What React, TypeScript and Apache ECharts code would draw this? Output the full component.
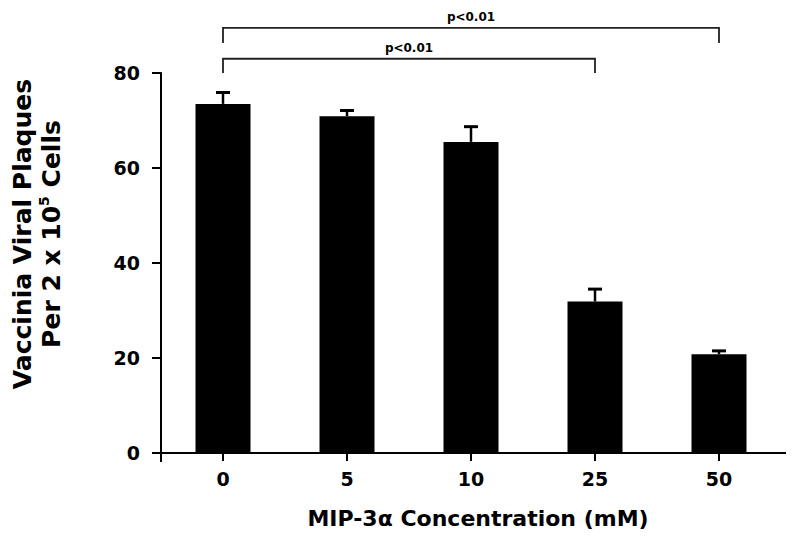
import React, { useEffect, useRef } from "react";
import * as echarts from "echarts";

const categories = ["0", "5", "10", "25", "50"];
const means = [73.5, 70.9, 65.5, 31.9, 20.8];
const errors = [2.4, 1.2, 3.2, 2.6, 0.7];
const yMin = 0;
const yMax = 80;
const yInterval = 20;
// significance brackets: from category index, to category index, bracket height, drop, label
const bracketFrom = [0, 0];
const bracketTo = [3, 4];
const bracketHeight = [83, 89.5];
const bracketDrop = [3, 3.2];
const bracketLabels = ["p<0.01", "p<0.01"];

const FONT = "'DejaVu Sans', Verdana, sans-serif";
const GRID = { left: 161, right: 19, top: 73, bottom: 89 };

export default function App() {
  const ref = useRef<HTMLDivElement>(null);
  useEffect(() => {
    document.body.style.margin = "0";
    if (!ref.current) return;
    const chart = echarts.init(ref.current, undefined, { renderer: "svg" });
    const errData = means.map((m, i) => [i, m, m + errors[i]]);
    const brData = bracketFrom.map((f, i) => [f, bracketTo[i], bracketHeight[i], bracketDrop[i]]);
    const originY = 542 - GRID.bottom;
    const axisEndX = 800 - GRID.right;
    chart.setOption({
      animation: false,
      backgroundColor: "#fff",
      grid: { ...GRID, containLabel: false },
      xAxis: {
        type: "category",
        data: categories,
        axisLine: { show: true, lineStyle: { color: "#000", width: 2 } },
        axisTick: { show: true, alignWithLabel: true, length: 8, lineStyle: { color: "#000", width: 2 } },
        axisLabel: { color: "#000", fontSize: 19, fontWeight: "bold", fontFamily: FONT, margin: 16 },
        name: "MIP-3\u03b1 Concentration (mM)",
        nameLocation: "middle",
        nameGap: 54,
        nameTextStyle: { color: "#000", fontSize: 22, fontWeight: "bold", fontFamily: FONT, padding: [0, 0, 0, 14] },
      },
      yAxis: {
        type: "value",
        min: yMin,
        max: yMax,
        interval: yInterval,
        splitLine: { show: false },
        axisLine: { show: true, lineStyle: { color: "#000", width: 2 } },
        axisTick: { show: true, length: 9, lineStyle: { color: "#000", width: 2 } },
        axisLabel: { color: "#000", fontSize: 19, fontWeight: "bold", fontFamily: FONT, margin: 21 },
      },
      series: [
        {
          type: "bar",
          data: means,
          barWidth: 55,
          itemStyle: { color: "#000" },
          z: 2,
        },
        {
          type: "custom",
          data: errData,
          encode: { x: 0, y: [1, 2] },
          z: 3,
          renderItem: (params: any, api: any) => {
            const base = api.coord([api.value(0), api.value(1)]);
            const top = api.coord([api.value(0), api.value(2)]);
            return {
              type: "group",
              children: [
                { type: "line", shape: { x1: base[0], y1: base[1], x2: base[0], y2: top[1] }, style: { stroke: "#000", lineWidth: 2.5 } },
                { type: "line", shape: { x1: base[0] - 7, y1: top[1], x2: base[0] + 7, y2: top[1] }, style: { stroke: "#000", lineWidth: 3 } },
              ],
            };
          },
        },
        {
          type: "custom",
          data: brData,
          clip: false,
          z: 4,
          renderItem: (params: any, api: any) => {
            const i = params.dataIndex;
            const l = api.coord([api.value(0), api.value(2)]);
            const r = api.coord([api.value(1), api.value(2)]);
            const b = api.coord([api.value(0), api.value(2) - api.value(3)]);
            return {
              type: "group",
              children: [
                {
                  type: "polyline",
                  shape: { points: [[l[0], b[1]], [l[0], l[1]], [r[0], l[1]], [r[0], b[1]]] },
                  style: { stroke: "#222", lineWidth: 1.8, fill: null },
                },
                {
                  type: "text",
                  x: (l[0] + r[0]) / 2,
                  y: l[1] - 11,
                  style: {
                    text: bracketLabels[i],
                    fill: "#000",
                    font: `bold 12px ${FONT}`,
                    align: "center",
                    verticalAlign: "middle",
                  },
                },
              ],
            };
          },
        },
      ],
      graphic: [
        {
          type: "text",
          id: "ytitle",
          x: 37,
          y: 234,
          rotation: Math.PI / 2,
          style: {
            text: "{t|Vaccinia Viral Plaques}\n{t|Per 2 x 10}{s|5}{t| Cells}",
            align: "center",
            verticalAlign: "middle",
            rich: {
              t: { fontSize: 25, fontWeight: "bold", fontFamily: FONT, fill: "#000", lineHeight: 29 },
              s: { fontSize: 14, fontWeight: "bold", fontFamily: FONT, fill: "#000", lineHeight: 29, verticalAlign: "top", padding: [0, 0, 10, 0] },
            },
          },
        },
        {
          type: "line",
          id: "yext",
          shape: { x1: GRID.left, y1: originY, x2: GRID.left, y2: originY + 9 },
          style: { stroke: "#000", lineWidth: 2 },
        },
        {
          type: "line",
          id: "xext",
          shape: { x1: axisEndX - 1, y1: originY, x2: axisEndX + 5, y2: originY },
          style: { stroke: "#000", lineWidth: 2 },
        },
      ],
    });
    return () => chart.dispose();
  }, []);
  return <div ref={ref} style={{ width: 800, height: 542 }} />;
}
